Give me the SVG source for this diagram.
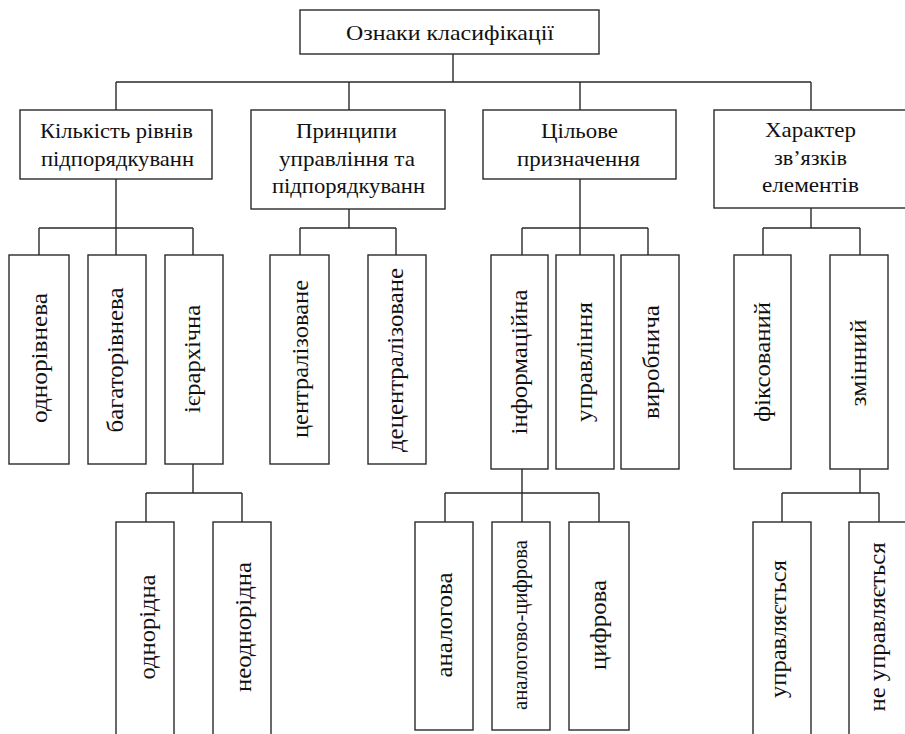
<svg xmlns="http://www.w3.org/2000/svg" width="905" height="734" viewBox="0 0 905 734">
<style>
.box{fill:#fff;stroke:#2a2a2a;stroke-width:1.4}
.ln{fill:none;stroke:#2a2a2a;stroke-width:1.4}
text{font-family:"Times New Roman","Liberation Serif","DejaVu Serif","Noto Serif",serif;fill:#111;text-anchor:middle}
.h{font-size:22px}
.v{font-size:24px}
.vs{font-size:20px}
</style>
<rect width="905" height="734" fill="#fff"/>
<g id="connectors">
<path class="ln" d="M453 54V82M116 82H811M116 82V110M349 82V110M580 82V110M811 82V110"/>
<path class="ln" d="M116 179V228M39 228H193M39 228V255M116 228V255M193 228V255"/>
<path class="ln" d="M349 209V228M300 228H396M300 228V255M396 228V255"/>
<path class="ln" d="M580 179V228M522 228H648M522 228V255M580 228V255M648 228V255"/>
<path class="ln" d="M811 208V228M763 228H860M763 228V255M860 228V255"/>
<path class="ln" d="M193 464V493M146 493H242M146 493V522M242 493V522"/>
<path class="ln" d="M522 469V522M445 493H599M445 493V522M599 493V522"/>
<path class="ln" d="M860 469V493M782 493H879M782 493V522M879 493V522"/>
</g>
<g id="root"><rect class="box" x="300" y="10" width="299" height="44"/><text class="h" x="450" y="40" textLength="208" lengthAdjust="spacingAndGlyphs">Ознаки класифікації</text></g>
<g id="n1"><rect class="box" x="20" y="110" width="192" height="69"/><text class="h" x="116.5" y="138" textLength="153" lengthAdjust="spacingAndGlyphs">Кількість рівнів</text><text class="h" x="117.5" y="166" textLength="153" lengthAdjust="spacingAndGlyphs">підпорядкуванн</text></g>
<g id="n2"><rect class="box" x="251" y="110" width="194" height="99"/><text class="h" x="346.5" y="138" textLength="101" lengthAdjust="spacingAndGlyphs">Принципи</text><text class="h" x="347" y="166" textLength="136" lengthAdjust="spacingAndGlyphs">управління та</text><text class="h" x="348.5" y="193" textLength="153" lengthAdjust="spacingAndGlyphs">підпорядкуванн</text></g>
<g id="n3"><rect class="box" x="483" y="110" width="193" height="69"/><text class="h" x="579.5" y="138" textLength="77" lengthAdjust="spacingAndGlyphs">Цільове</text><text class="h" x="578.5" y="166" textLength="123" lengthAdjust="spacingAndGlyphs">призначення</text></g>
<g id="n4"><rect class="box" x="714" y="110" width="194" height="98"/><text class="h" x="810.5" y="137" textLength="91" lengthAdjust="spacingAndGlyphs">Характер</text><text class="h" x="810.5" y="165" textLength="73" lengthAdjust="spacingAndGlyphs">зв’язків</text><text class="h" x="810.5" y="192" textLength="97" lengthAdjust="spacingAndGlyphs">елементів</text></g>
<g id="n1a"><rect class="box" x="9" y="255" width="60" height="209"/><text class="v" transform="translate(47,358) rotate(-90)" textLength="130" lengthAdjust="spacingAndGlyphs">однорівнева</text></g>
<g id="n1b"><rect class="box" x="88" y="255" width="58" height="209"/><text class="v" transform="translate(123,360) rotate(-90)" textLength="145" lengthAdjust="spacingAndGlyphs">багаторівнева</text></g>
<g id="n1c"><rect class="box" x="165" y="255" width="58" height="209"/><text class="v" transform="translate(200,359) rotate(-90)" textLength="108" lengthAdjust="spacingAndGlyphs">ієрархічна</text></g>
<g id="n2a"><rect class="box" x="270" y="255" width="59" height="209"/><text class="v" transform="translate(308,359) rotate(-90)" textLength="158" lengthAdjust="spacingAndGlyphs">централізоване</text></g>
<g id="n2b"><rect class="box" x="368" y="255" width="58" height="209"/><text class="v" transform="translate(403,360) rotate(-90)" textLength="184" lengthAdjust="spacingAndGlyphs">децентралізоване</text></g>
<g id="n3a"><rect class="box" x="491" y="255" width="57" height="214"/><text class="v" transform="translate(527,362) rotate(-90)" textLength="145" lengthAdjust="spacingAndGlyphs">інформаційна</text></g>
<g id="n3b"><rect class="box" x="556" y="255" width="58" height="214"/><text class="v" transform="translate(592,362) rotate(-90)" textLength="120" lengthAdjust="spacingAndGlyphs">управління</text></g>
<g id="n3c"><rect class="box" x="621" y="255" width="58" height="214"/><text class="v" transform="translate(659,362) rotate(-90)" textLength="114" lengthAdjust="spacingAndGlyphs">виробнича</text></g>
<g id="n4a"><rect class="box" x="734" y="255" width="57" height="214"/><text class="v" transform="translate(770,362) rotate(-90)" textLength="120" lengthAdjust="spacingAndGlyphs">фіксований</text></g>
<g id="n4b"><rect class="box" x="830" y="255" width="58" height="214"/><text class="v" transform="translate(866,363) rotate(-90)" textLength="87" lengthAdjust="spacingAndGlyphs">змінний</text></g>
<g id="n1c1"><rect class="box" x="116" y="522" width="58" height="230"/><text class="v" transform="translate(155,627) rotate(-90)" textLength="105" lengthAdjust="spacingAndGlyphs">однорідна</text></g>
<g id="n1c2"><rect class="box" x="213" y="522" width="58" height="230"/><text class="v" transform="translate(251,627) rotate(-90)" textLength="130" lengthAdjust="spacingAndGlyphs">неоднорідна</text></g>
<g id="n3a1"><rect class="box" x="415" y="522" width="58" height="208"/><text class="v" transform="translate(452,625) rotate(-90)" textLength="105" lengthAdjust="spacingAndGlyphs">аналогова</text></g>
<g id="n3a2"><rect class="box" x="492" y="522" width="58" height="208"/><text class="vs" transform="translate(527,625) rotate(-90)" textLength="170" lengthAdjust="spacingAndGlyphs">аналогово-цифрова</text></g>
<g id="n3a3"><rect class="box" x="569" y="522" width="60" height="208"/><text class="v" transform="translate(606,625) rotate(-90)" textLength="90" lengthAdjust="spacingAndGlyphs">цифрова</text></g>
<g id="n4b1"><rect class="box" x="753" y="522" width="58" height="230"/><text class="v" transform="translate(786,629) rotate(-90)" textLength="138" lengthAdjust="spacingAndGlyphs">управляється</text></g>
<g id="n4b2"><rect class="box" x="849" y="522" width="60" height="230"/><text class="v" transform="translate(885,627) rotate(-90)" textLength="169" lengthAdjust="spacingAndGlyphs">не управляється</text></g>
</svg>
